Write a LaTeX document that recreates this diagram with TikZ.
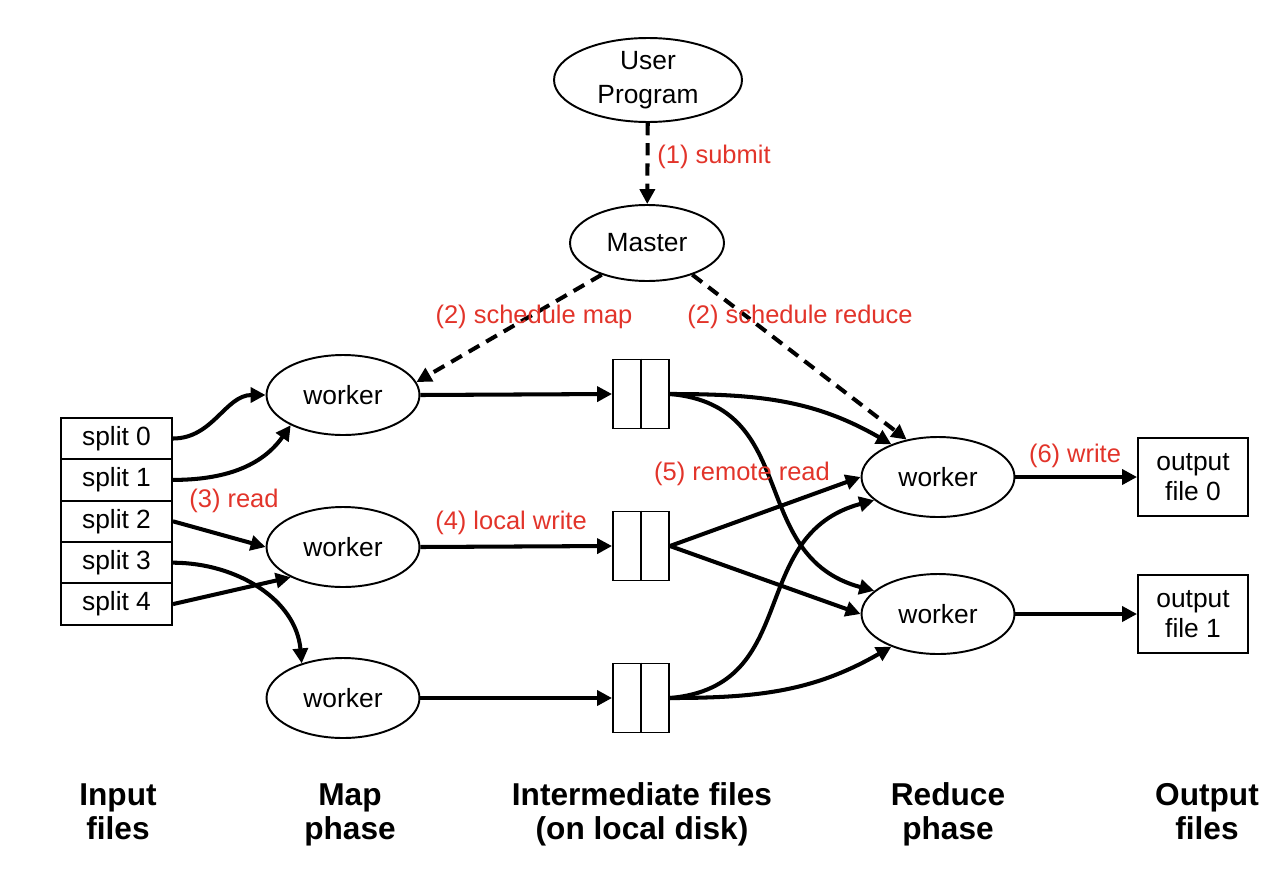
\documentclass[tikz,border=0pt]{standalone}
\usepackage{fontspec}
\setmainfont{Liberation Sans}
\usetikzlibrary{shapes.geometric,arrows.meta}
\definecolor{lblred}{RGB}{226,52,42}

\begin{document}
\begin{tikzpicture}[x=0.02cm,y=-0.02cm,
    proc/.style={ellipse,draw,line width=1.1pt,minimum width=3.06cm,minimum height=1.6cm,inner sep=0pt,font=\fontsize{15}{19}\selectfont},
    splitbox/.style={rectangle,draw,line width=1.1pt,minimum width=2.22cm,minimum height=0.83cm,inner sep=0pt,font=\fontsize{15}{19}\selectfont},
    filebox/.style={rectangle,draw,line width=1.1pt,minimum width=1.12cm,minimum height=1.38cm,inner sep=0pt},
    outbox/.style={rectangle,draw,line width=1.1pt,minimum width=2.2cm,minimum height=1.56cm,inner sep=0pt,align=center,font=\fontsize{15}{17}\selectfont},
    lbl/.style={text=lblred,inner sep=0pt,font=\fontsize{14.5}{17}\selectfont},
    phase/.style={align=center,inner sep=0pt,font=\fontsize{18}{19.5}\selectfont\bfseries},
    flow/.style={line width=2.3pt,-{Triangle[length=8.5pt,width=8.5pt]}},
    ctrl/.style={flow,dash pattern=on 7pt off 4.5pt}]
  \useasboundingbox (0,0) rectangle (1280,872);

  % master and user program
  \node[proc,minimum width=3.76cm,minimum height=1.68cm,align=center] (user) at (648,80) {User\\Program};
  \node[proc,minimum width=3.08cm,minimum height=1.52cm] (master) at (647,243) {Master};

  % input splits
  \foreach \i in {0,...,4}
    \node[splitbox] (s\i) at (116.5,438.5+41.4*\i) {split \i};

  % map workers
  \node[proc] (w1) at (343,395) {worker};
  \node[proc] (w2) at (343,547) {worker};
  \node[proc] (w3) at (343,698) {worker};

  % intermediate files
  \node[filebox] (b1) at (641,394) {};
  \node[filebox] (b2) at (641,546) {};
  \node[filebox] (b3) at (641,698) {};
  \foreach \b in {b1,b2,b3}
    \draw[line width=1.1pt] (\b.north) -- (\b.south);

  % reduce workers and outputs
  \node[proc] (r1) at (938,477) {worker};
  \node[proc] (r2) at (938,614) {worker};
  \node[outbox] (o0) at (1193,477) {output\\file 0};
  \node[outbox] (o1) at (1193,614) {output\\file 1};

  % control
  \draw[ctrl] (user) -- (master);
  \draw[ctrl] (master.-145) -- (w1.10);
  \draw[ctrl] (master.-35) -- (r1.130);

  % map side
  \draw[flow] (s0.east) to[out=0,in=180] (w1.west);
  \draw[flow] (s1.east) to[out=0,in=-125] (w1.-150);
  \draw[flow] (s2.east) -- (w2.west);
  \draw[flow] (s3.east) to[out=0,in=95] (w3.140);
  \draw[flow] (s4.east) -- (w2.-150);
  \draw[flow] (w1.east) -- (b1.west);
  \draw[flow] (w2.east) -- (b2.west);
  \draw[flow] (w3.east) -- (b3.west);

  % reduce side
  \draw[flow] (b1.east) to[out=0,in=150] (r1.145);
  \draw[flow] (b1.east) to[out=-5,in=165,looseness=1.2] (r2.160);
  \draw[flow] (b2.east) -- (r1.west);
  \draw[flow] (b2.east) -- (r2.west);
  \draw[flow] (b3.east) to[out=5,in=-165,looseness=1.2] (r1.-160);
  \draw[flow] (b3.east) to[out=0,in=-150] (r2.-145);
  \draw[flow] (r1.east) -- (o0.west);
  \draw[flow] (r2.east) -- (o1.west);

  % step labels
  \node[lbl] (l1) at (714,157) {(1) submit};
  \node[lbl] (l2) at (534,317) {(2) schedule map};
  \node[lbl] (l2b) at (800,317) {(2) schedule reduce};
  \node[lbl] (l3) at (234,501) {(3) read};
  \node[lbl] (l4) at (511,523) {(4) local write};
  \node[lbl] (l5) at (742,474) {(5) remote read};
  \node[lbl] (l6) at (1075,456) {(6) write};

  % phase captions
  \node[phase] (p1) at (118,816) {\strut Input\\\strut files};
  \node[phase] (p2) at (350,816) {\strut Map\\\strut phase};
  \node[phase] (p3) at (642,816) {\strut Intermediate files\\\strut (on local disk)};
  \node[phase] (p4) at (948,816) {\strut Reduce\\\strut phase};
  \node[phase] (p5) at (1207,816) {\strut Output\\\strut files};
\end{tikzpicture}
\end{document}
